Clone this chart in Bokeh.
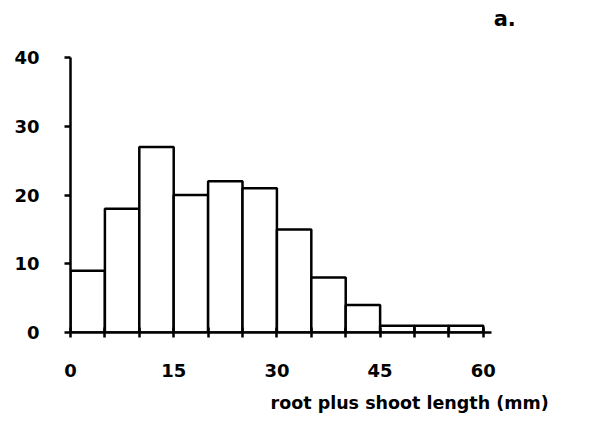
from bokeh.plotting import figure
from bokeh.models import FixedTicker, Range1d, Title, Label
from bokeh.embed import file_html
from bokeh.resources import INLINE

# data
bin_left = [0, 5, 10, 15, 20, 25, 30, 35, 40, 45, 50, 55]
bin_right = [5, 10, 15, 20, 25, 30, 35, 40, 45, 50, 55, 60]
counts = [9, 18, 27, 20, 22, 21, 15, 8, 4, 1, 1, 1]
x_ticks = [0, 5, 10, 15, 20, 25, 30, 35, 40, 45, 50, 55, 60]
x_tick_labels = {0: "0", 15: "15", 30: "30", 45: "45", 60: "60"}
y_ticks = [0, 10, 20, 30, 40]
x_label = "root plus shoot length (mm)"
panel_label = "a."

FONT = "DejaVu Sans"

p = figure(width=598, height=416, output_backend="svg", toolbar_location=None,
           x_range=Range1d(0, 76.74), y_range=Range1d(0, 48.33),
           frame_width=528, frame_height=332)
p.min_border_left = 70
p.min_border_right = 0
p.min_border_top = 0
p.min_border_bottom = 84
p.outline_line_color = None
p.background_fill_color = "white"
p.border_fill_color = "white"
p.xgrid.grid_line_color = None
p.ygrid.grid_line_color = None

p.quad(left=bin_left, right=bin_right, top=counts, bottom=0,
       fill_color="white", line_color="black", line_width=2.5)

xa = p.xaxis[0]
xa.bounds = (0, 61.2)
xa.ticker = FixedTicker(ticks=x_ticks)
xa.major_label_overrides = {t: x_tick_labels.get(t, "") for t in x_ticks}
xa.major_tick_in = 5
xa.major_tick_out = 5
xa.minor_tick_line_color = None
xa.axis_line_width = 2.5
xa.major_tick_line_width = 2.5
xa.major_label_standoff = 26
xa.major_label_text_font = FONT
xa.major_label_text_font_style = "bold"
xa.major_label_text_font_size = "18px"
xa.major_label_text_color = "black"

ya = p.yaxis[0]
ya.bounds = (0, 40)
ya.ticker = FixedTicker(ticks=y_ticks)
ya.major_tick_in = 0
ya.major_tick_out = 6
ya.minor_tick_line_color = None
ya.axis_line_width = 2.5
ya.major_tick_line_width = 2.5
ya.major_label_standoff = 25
ya.major_label_text_font = FONT
ya.major_label_text_font_style = "bold"
ya.major_label_text_font_size = "18px"
ya.major_label_text_color = "black"

p.add_layout(Title(text=x_label, align="left", offset=200, standoff=23,
                   text_font=FONT, text_font_style="bold",
                   text_font_size="17.5px", text_color="black"), "below")
p.add_layout(Label(x=61.5, y=45.6, text=panel_label, text_align="left",
                   text_baseline="alphabetic", text_font=FONT,
                   text_font_style="bold", text_font_size="21px",
                   text_color="black"))

open("out.html", "w").write(file_html(p, INLINE))
